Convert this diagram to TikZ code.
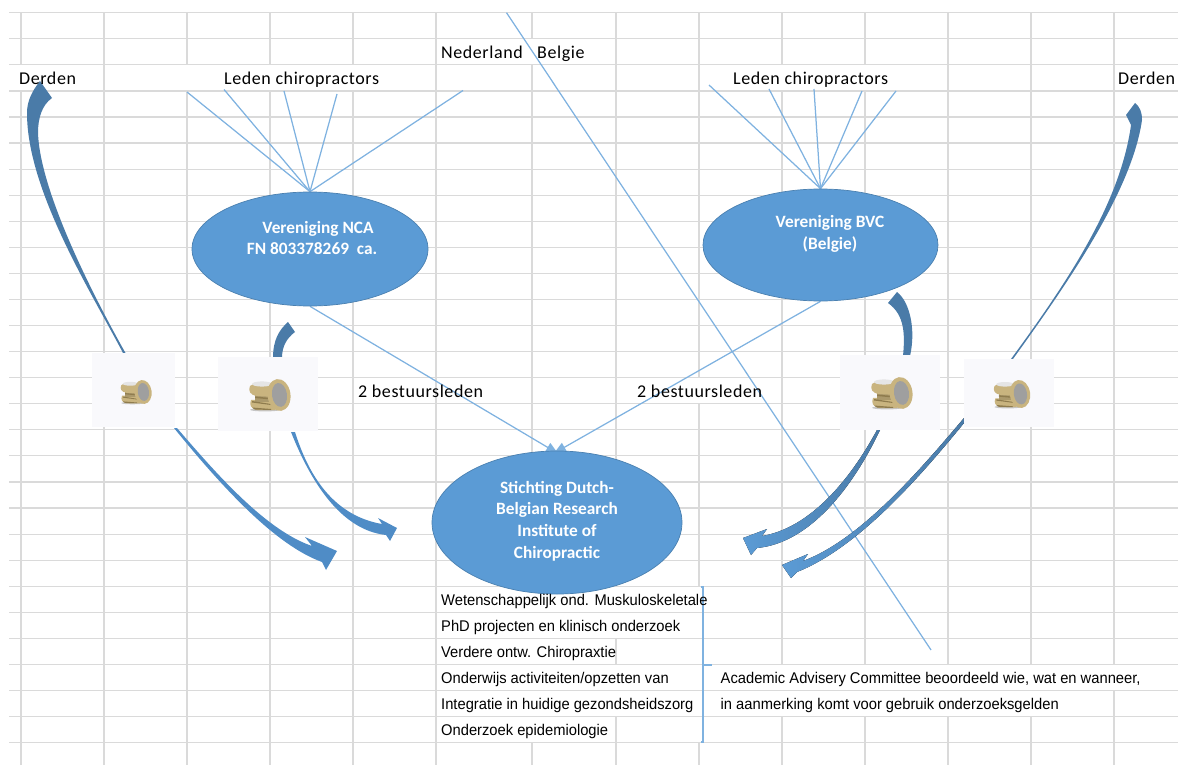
\documentclass[tikz,border=0pt]{standalone}
\usepackage{fontspec}
\setmainfont{Carlito}
\newfontfamily\lblfont[LetterSpace=3.2]{Carlito}
\newfontfamily\tblfont[FakeStretch=0.95]{Liberation Sans}
\usetikzlibrary{arrows.meta,shapes.geometric}
\pgfdeclarelayer{gridlayer}
\pgfdeclarelayer{connlayer}
\pgfsetlayers{gridlayer,connlayer,main}
\definecolor{gridc}{HTML}{DADADA}
\definecolor{ellfill}{HTML}{5B9BD5}
\definecolor{ellline}{HTML}{4A80B0}
\definecolor{linec}{HTML}{7FB2E0}
\definecolor{darkarrow}{HTML}{4A7BA8}
\definecolor{midarrow}{HTML}{4F8CC6}
\definecolor{gold}{HTML}{C9B47F}
\definecolor{golddark}{HTML}{8F7C4E}
\definecolor{coinbg}{HTML}{F9F9FC}
\tikzset{
  oval/.style={ellipse,draw=ellline,fill=ellfill,line width=0.7pt,inner sep=0pt},
  ovaltext/.style={text=white,font=\fontsize{17.3}{21.6}\selectfont\bfseries,align=center,inner sep=0pt},
  lbl/.style={anchor=base west,inner sep=0pt,text=black,font=\lblfont\fontsize{18}{20}\selectfont},
  tbl/.style={anchor=base west,inner sep=0pt,text=black,font=\tblfont\fontsize{15.5}{18}\selectfont},
  thin line/.style={draw=linec,line width=1.25pt},
  gridl/.style={draw=gridc,line width=1.2pt},
  coinbox/.style={rectangle,fill=coinbg,inner sep=0pt},
  coinstack/.pic={
    \fill[gray!45] (-14,14.8) ellipse [x radius=15,y radius=1.6];
    \fill[gold] (-28,5) .. controls (-30,10) and (-28,14) .. (-22,15) -- (-4,15) -- (-4,4) -- cycle;
    \fill[gold!85!black] (-24,-2) rectangle (-4,7);
    \fill[gold] (-29,-9) .. controls (-31,-4) and (-29,0) .. (-22,1) -- (-4,2) -- (-4,-11) -- (-24,-12) -- cycle;
    \fill[golddark] (-27,6) -- (-8,9) -- (-8,10) -- (-27,7.5) -- cycle;
    \fill[golddark] (-24,1.5) -- (-8,3) -- (-8,4.5) -- (-24,3) -- cycle;
    \fill[golddark] (-27,12.5) -- (-8,14) -- (-8,15) -- (-24,14.5) -- cycle;
    \fill[gray!20] (-17,-11) ellipse [x radius=10,y radius=2.6];
    \fill[gold,rotate=8] (0,0) ellipse [x radius=11.5,y radius=16];
    \fill[gray!75,rotate=8] (0.5,0) ellipse [x radius=7.5,y radius=12];
  }
}
\newcommand{\vgrid}[2]{\foreach \ra/\rb in {#2}{\draw[gridl] (#1,12.7+26.07*\ra) -- (#1,{min(765,12.7+26.07*\rb)});}}
\begin{document}
\begin{tikzpicture}[x=1pt,y=-1pt]
\useasboundingbox (0,0) rectangle (1178,765);

% grid
\begin{pgfonlayer}{gridlayer}
\foreach \r in {0,...,28}{\draw[gridl] (9,12.7+26.07*\r) -- (1178,12.7+26.07*\r);}
\vgrid{21}{0/2,3/30}
\vgrid{104}{0/30}
\vgrid{187}{0/2,3/30}
\vgrid{270}{0/2,3/30}
\vgrid{353}{0/2,3/30}
\vgrid{436}{0/30}
\vgrid{532}{0/1,2/22,28/30}
\vgrid{616}{0/22,24/25,27/30}
\vgrid{699}{0/14,15/22,28/30}
\vgrid{782}{0/2,3/25,27/30}
\vgrid{865}{0/2,3/25,27/30}
\vgrid{948}{0/25,27/30}
\vgrid{1031}{0/25,27/30}
\vgrid{1114}{0/25,26/30}
\end{pgfonlayer}

% ovals
\node[oval,minimum width=236pt,minimum height=114pt] (nca) at (310,249) {};
\node[oval,minimum width=235pt,minimum height=112pt] (bvc) at (820.5,245) {};
\node[oval,minimum width=250pt,minimum height=143pt] (sti) at (557,522.5) {};
\node[ovaltext] (ncat) at (312,238) {\hspace*{12pt}Vereniging NCA\\FN 803378269\ \ ca.};
\node[ovaltext] (bvct) at (830,234) {Vereniging BVC\\(Belgie)};
\node[ovaltext] (stit) at (557,521) {Stichting Dutch-\\Belgian Research\\Institute of\\Chiropractic};

% coin pictures
\node[coinbox,minimum width=83pt,minimum height=74pt] (coina) at (133.5,390) {};
\node[coinbox,minimum width=100pt,minimum height=74pt] (coinb) at (268,394) {};
\node[coinbox,minimum width=100pt,minimum height=75pt] (coinc) at (890,392.5) {};
\node[coinbox,minimum width=90pt,minimum height=68pt] (coind) at (1009,393) {};
\pic[scale=0.75] at (143,392) {coinstack};
\pic[scale=1] at (279,395) {coinstack};
\pic[scale=1] at (901,393) {coinstack};
\pic[scale=0.88] at (1020,394) {coinstack};

% free ends of the connectors
\coordinate (n1) at (187,92);
\coordinate (n2) at (224,89.5);
\coordinate (n3) at (284,91);
\coordinate (n4) at (337,94);
\coordinate (n5) at (463,90.5);
\coordinate (b1) at (709,85);
\coordinate (b2) at (769,89);
\coordinate (b3) at (814,89);
\coordinate (b4) at (862,91);
\coordinate (b5) at (896,91);
\coordinate (stiL) at (558,453.5);
\coordinate (stiR) at (554,453.2);
\coordinate (diagA) at (506.5,12.7);
\coordinate (diagB) at (931,650);

\begin{pgfonlayer}{connlayer}
\foreach \p in {n1,n2,n3,n4,n5}{\draw[thin line] (\p) -- (nca.north);}
\foreach \p in {b1,b2,b3,b4,b5}{\draw[thin line] (\p) -- (bvc.north);}
\draw[thin line,-{Triangle[length=12pt,width=10pt]}] (nca.south) -- (stiL);
\draw[thin line,-{Triangle[length=12pt,width=10pt]}] (bvc.south) -- (stiR);
\draw[thin line] (diagA) -- (diagB);

% curved block arrows
\fill[darkarrow] (123,353) .. controls (90,290) and (27,190) .. (27,113)
  .. controls (27,100) and (33,90) .. (40,81) -- (52,98)
  .. controls (42,105) and (38,118) .. (38,133)
  .. controls (40,190) and (90,290) .. (125.5,353) -- cycle;
\fill[darkarrow] (273,358) .. controls (273,340) and (279,330) .. (288,322) -- (295,332)
  .. controls (287,338) and (282,346) .. (282,358) -- cycle;
\fill[darkarrow] (903,356) .. controls (905,335) and (905,315) .. (888,303) -- (897,292)
  .. controls (910,302) and (916,330) .. (910,356) -- cycle;
\fill[darkarrow] (1011,359) .. controls (1065,285) and (1120,205) .. (1131,125) -- (1126,115) -- (1135,103)
  .. controls (1140,107) and (1142,112) .. (1142,120)
  .. controls (1132,190) and (1070,280) .. (1013,359) -- cycle;
\fill[midarrow] (177,428) .. controls (215,472) and (265,530) .. (312,546) -- (305,537) -- (337,551)
  -- (326,570) -- (322,562) .. controls (275,545) and (222,487) .. (174,428) -- cycle;
\fill[midarrow] (295,432) .. controls (307,470) and (330,515) .. (382,524) -- (378,518) -- (397,528)
  -- (390,541) -- (386,535) .. controls (340,530) and (310,480) .. (291,432) -- cycle;
\fill[left color=ellfill,right color=darkarrow] (880,430) .. controls (853,487) and (810,543) .. (757,548)
  -- (751,555) -- (743,538) -- (767,529) -- (762,536)
  .. controls (810,528) and (850,480) .. (877,430) -- cycle;
\fill[left color=ellfill,right color=darkarrow] (964,423) .. controls (923,473) and (860,547) .. (797,572)
  -- (791,578) -- (782,565) -- (808,554) -- (803,561)
  .. controls (860,540) and (920,470) .. (964,418) -- cycle;
% bracket
\draw[thin line] (701,587) -- (703,587) -- (703,742) -- (701,742);
\draw[thin line] (703,665) -- (712,665);
\end{pgfonlayer}

% labels
\node[lbl] (d1) at (19,85) {Derden};
\node[lbl] (d2) at (1118,85) {Derden};
\node[lbl] (l1) at (224,85) {Leden chiropractors};
\node[lbl] (l2) at (733,85) {Leden chiropractors};
\node[lbl] (nl) at (441,58.5) {Nederland};
\node[lbl] (be) at (537,58.5) {Belgie};
\node[lbl] (bs1) at (358,397) {2 bestuursleden};
\node[lbl] (bs2) at (637,397) {2 bestuursleden};

\node[tbl] (t1) at (441,605) {Wetenschappelijk ond. Muskuloskeletale};
\node[tbl] (t2) at (441,631) {PhD projecten en klinisch onderzoek};
\node[tbl] (t3) at (441,657) {Verdere ontw. Chiropraxtie};
\node[tbl] (t4) at (441,683) {Onderwijs activiteiten/opzetten van};
\node[tbl] (t5) at (441,709) {Integratie in huidige gezondsheidszorg};
\node[tbl] (t6) at (441,735) {Onderzoek epidemiologie};
\node[tbl] (t7) at (720.5,683) {Academic Advisery Committee beoordeeld wie, wat en wanneer,};
\node[tbl] (t8) at (720.5,709) {in aanmerking komt voor gebruik onderzoeksgelden};
\end{tikzpicture}
\end{document}
